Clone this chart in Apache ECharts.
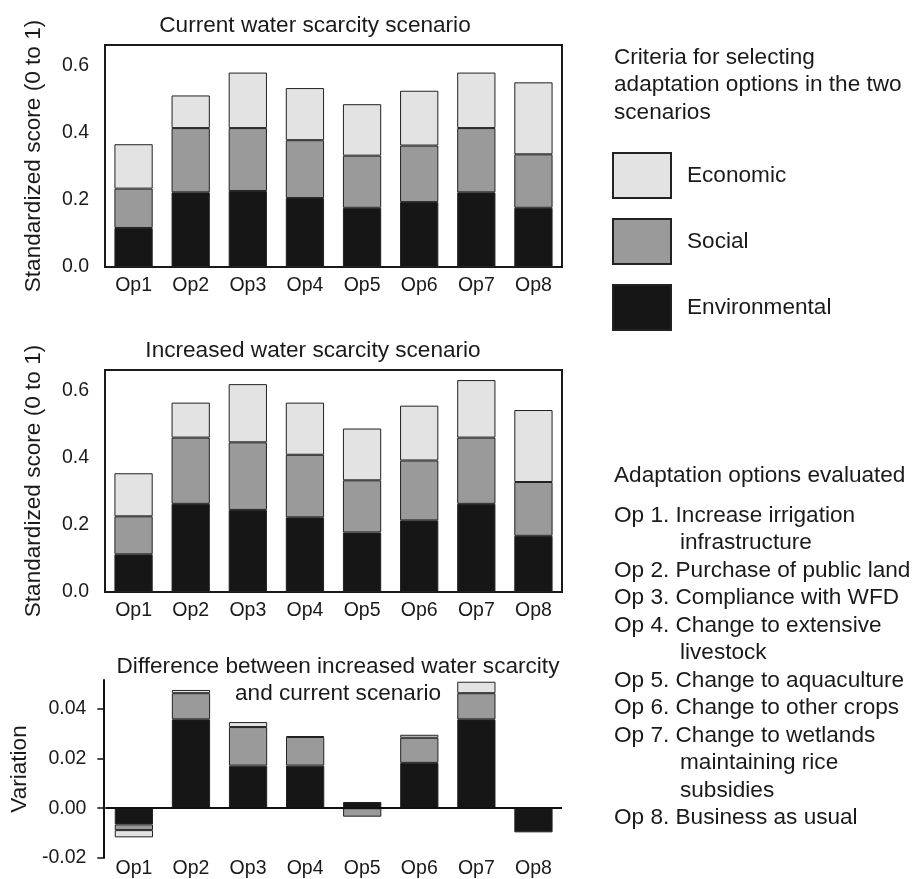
<!DOCTYPE html>
<html><head><meta charset="utf-8">
<script src="https://cdn.jsdelivr.net/npm/echarts@6.0.0/dist/echarts.min.js"></script>
<style>html,body{margin:0;padding:0;background:#fff}#c{width:913px;height:879px}</style>
</head><body><div id="c"></div>
<script>
// ---- data ----
const categories = ['Op1','Op2','Op3','Op4','Op5','Op6','Op7','Op8'];
// Current water scarcity scenario (segment heights)
const currentEnv = [0.116, 0.222, 0.226, 0.205, 0.176, 0.193, 0.222, 0.176];
const currentSoc = [0.117, 0.191, 0.187, 0.172, 0.155, 0.168, 0.191, 0.159];
const currentEco = [0.132, 0.097, 0.165, 0.155, 0.153, 0.163, 0.165, 0.214];
// Increased water scarcity scenario (segment heights)
const increasedEnv = [0.112, 0.262, 0.244, 0.222, 0.177, 0.213, 0.262, 0.167];
const increasedSoc = [0.113, 0.197, 0.201, 0.186, 0.155, 0.178, 0.197, 0.160];
const increasedEco = [0.128, 0.104, 0.173, 0.155, 0.154, 0.163, 0.171, 0.214];
// Difference (increased - current)
const diffEnv = [-0.0065, 0.0357, 0.0171, 0.0171, 0.0025, 0.0182, 0.0357, -0.0097];
const diffSoc = [-0.0023, 0.0105, 0.0155, 0.0115, -0.0034, 0.0101, 0.0105, null];
const diffEco = [-0.0029, 0.0013, 0.0020, 0.0004, null, 0.0012, 0.0046, null];
const scoreTicks = [0, 0.2, 0.4, 0.6];
const diffTicks = [-0.02, 0, 0.02, 0.04];
const criteriaNames = ['Economic', 'Social', 'Environmental'];
const criteriaTitle = ['Criteria for selecting', 'adaptation options in the two', 'scenarios'];
const optionsTitle = 'Adaptation options evaluated';
const optionLines = [
  ['Op 1. Increase irrigation', false],
  ['infrastructure', true],
  ['Op 2. Purchase of public land', false],
  ['Op 3. Compliance with WFD', false],
  ['Op 4. Change to extensive', false],
  ['livestock', true],
  ['Op 5. Change to aquaculture', false],
  ['Op 6. Change to other crops', false],
  ['Op 7. Change to wetlands', false],
  ['maintaining rice', true],
  ['subsidies', true],
  ['Op 8. Business as usual', false]
];
const chartTitles = ['Current water scarcity scenario', 'Increased water scarcity scenario',
  'Difference between increased water scarcity\nand current scenario'];

// ---- styles ----
const FONT = "'Liberation Sans', Arial, Helvetica, sans-serif";
const TXT = '#1a1a1a';
const colors = {Environmental: '#161616', Social: '#9a9a9a', Economic: '#e3e3e3'};
const BIG = 22.6, SMALL = 19.5;

const chart = echarts.init(document.getElementById('c'), null, {renderer: 'canvas'});

const grids = [
  {left: 105, top: 45, width: 457, height: 222, show: true, borderColor: '#1a1a1a', borderWidth: 2, backgroundColor: 'transparent'},
  {left: 105, top: 370, width: 457, height: 222, show: true, borderColor: '#1a1a1a', borderWidth: 2, backgroundColor: 'transparent'},
  {left: 105, top: 680, width: 457, height: 180}
];

function xAxis(i, margin) {
  return {
    type: 'category', gridIndex: i, data: categories,
    axisLine: {show: false, onZero: false}, axisTick: {show: false},
    axisLabel: {margin: margin, fontSize: SMALL, color: TXT, fontFamily: FONT, interval: 0}
  };
}
function scoreY(i) {
  return {
    type: 'value', gridIndex: i, min: 0, max: 0.66, interval: 0.2,
    name: 'Standardized score (0 to 1)', nameLocation: 'middle', nameGap: 60, nameRotate: 90,
    nameTextStyle: {fontSize: BIG, color: TXT, fontFamily: FONT},
    axisLine: {show: false}, axisTick: {show: false}, splitLine: {show: false},
    axisLabel: {margin: 16, fontSize: SMALL, color: TXT, fontFamily: FONT,
      customValues: scoreTicks, formatter: v => v.toFixed(1)}
  };
}

function stack(i, env, soc, eco) {
  const mk = (name, data) => ({
    name: name, type: 'bar', stack: 's' + i, xAxisIndex: i, yAxisIndex: i, data: data,
    barCategoryGap: '33%',
    itemStyle: {color: colors[name], borderColor: '#222', borderWidth: 1},
    emphasis: {disabled: true}, animation: false
  });
  return [mk('Environmental', env), mk('Social', soc), mk('Economic', eco)];
}

const series = [
  ...stack(0, currentEnv, currentSoc, currentEco),
  ...stack(1, increasedEnv, increasedSoc, increasedEco),
  ...stack(2, diffEnv, diffSoc, diffEco)
];
series[6].markLine = {
  silent: true, symbol: ['none', 'none'], label: {show: false}, animation: false,
  lineStyle: {color: '#111', width: 2, type: 'solid'}, data: [{yAxis: 0}]
};

const graphic = [];
criteriaTitle.forEach((t, k) => graphic.push({type: 'text', left: 614, top: 58 + k * 27.5 - 12,
  style: {text: t, font: BIG + 'px ' + FONT, fill: TXT}}));
graphic.push({type: 'text', left: 614, top: 476 - 12, style: {text: optionsTitle, font: BIG + 'px ' + FONT, fill: TXT}});
optionLines.forEach((l, k) => graphic.push({type: 'text', left: l[1] ? 680 : 614, top: 516 + k * 27.5 - 12,
  style: {text: l[0], font: BIG + 'px ' + FONT, fill: TXT}}));

const option = {
  backgroundColor: '#fff',
  animation: false,
  title: [
    {text: chartTitles[0], left: 315, top: 14, textAlign: 'center', padding: 0,
      textStyle: {fontSize: BIG, fontWeight: 'normal', color: TXT, fontFamily: FONT}},
    {text: chartTitles[1], left: 313, top: 339, textAlign: 'center', padding: 0,
      textStyle: {fontSize: BIG, fontWeight: 'normal', color: TXT, fontFamily: FONT}},
    {text: chartTitles[2], left: 338, top: 653, textAlign: 'center', padding: 0,
      textStyle: {fontSize: BIG, fontWeight: 'normal', color: TXT, fontFamily: FONT, lineHeight: 27}}
  ],
  legend: {
    data: criteriaNames, orient: 'vertical', left: 612, top: 152, padding: 0,
    itemWidth: 58, itemHeight: 45, itemGap: 19, icon: 'rect', selectedMode: false,
    textStyle: {fontSize: BIG, color: TXT, fontFamily: FONT, padding: [0, 0, 0, 11]}
  },
  grid: grids,
  xAxis: [xAxis(0, 9), xAxis(1, 9), xAxis(2, 1)],
  yAxis: [scoreY(0), scoreY(1), {
    type: 'value', gridIndex: 2, min: -0.02, max: 0.0515, interval: 0.02, offset: 2,
    name: 'Variation', nameLocation: 'middle', nameGap: 72, nameRotate: 90,
    nameTextStyle: {fontSize: BIG, color: TXT, fontFamily: FONT},
    axisLine: {show: true, onZero: false, lineStyle: {color: '#111', width: 2}},
    axisTick: {show: true, length: 6, customValues: diffTicks, lineStyle: {color: '#111', width: 1.5}},
    splitLine: {show: false},
    axisLabel: {margin: 17, fontSize: SMALL, color: TXT, fontFamily: FONT,
      customValues: diffTicks, formatter: v => v.toFixed(2)}
  }],
  series: series,
  graphic: graphic
};
chart.setOption(option);
</script>
</body></html>
